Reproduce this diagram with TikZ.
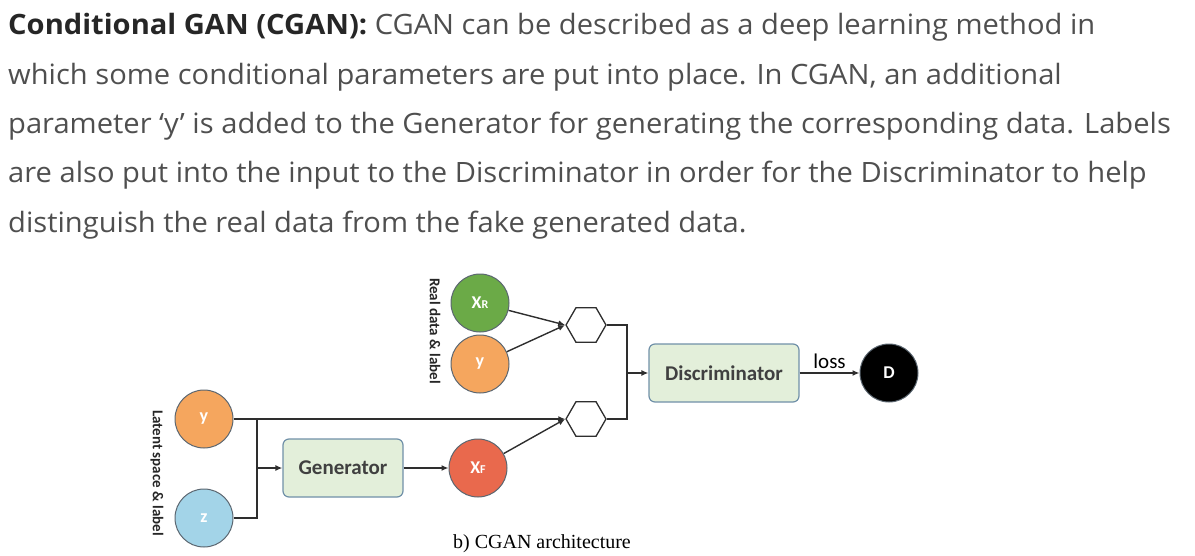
\documentclass[tikz,border=0pt]{standalone}
\usepackage{fontspec}
\setmainfont{Open Sans}[FakeStretch=1.04]
\newfontfamily\diagfont{Carlito}
\newfontfamily\capfont{Liberation Serif}
\usetikzlibrary{arrows.meta,positioning,shapes.geometric}
\definecolor{txtgray}{HTML}{4F4F4F}
\definecolor{txtdark}{HTML}{262626}
\definecolor{realgreen}{HTML}{6BAA47}
\definecolor{lblorange}{HTML}{F5A65E}
\definecolor{fakered}{HTML}{E9694D}
\definecolor{noiseblue}{HTML}{A3D4E8}
\definecolor{boxgreen}{HTML}{E3EFDA}
\definecolor{boxedge}{HTML}{7090A8}
\definecolor{ringgray}{HTML}{5B6670}
\definecolor{wiregray}{HTML}{2E2E2E}

\begin{document}
\begin{tikzpicture}[x=1pt,y=-1pt,>={Latex[length=7pt,width=6pt]},
  wire/.style={draw=wiregray,line width=1.4pt},
  blob/.style={circle,draw=ringgray,line width=1pt,minimum size=58pt,inner sep=0pt,
    text=white,font=\diagfont\bfseries\fontsize{18}{18}\selectfont},
  block/.style={rectangle,rounded corners=6pt,draw=boxedge,fill=boxgreen,line width=1.2pt,
    minimum height=58pt,text=black!75,font=\diagfont\bfseries\fontsize{21}{21}\selectfont},
  joiner/.style={regular polygon,regular polygon sides=6,draw=wiregray,line width=1.3pt,
    fill=white,minimum size=40pt,inner sep=0pt},
  para/.style={anchor=base west,inner sep=0pt,text=txtgray,font=\fontsize{28}{28}\selectfont},
  side/.style={rotate=-90,text=black!85,font=\diagfont\bfseries\fontsize{15}{15}\selectfont}]
  \useasboundingbox (0,0) rectangle (1195,555);

  % text above the figure
  \node[para] (l1) at (8,34) {{\bfseries\color{txtdark}Conditional GAN (CGAN):} CGAN can be described as a deep learning method in};
  \node[para] (l2) at (8,84) {which some conditional parameters are put into place. In CGAN, an additional};
  \node[para] (l3) at (8,133) {parameter `y' is added to the Generator for generating the corresponding data. Labels};
  \node[para] (l4) at (8,182) {are also put into the input to the Discriminator in order for the Discriminator to help};
  \node[para] (l5) at (8,232) {distinguish the real data from the fake generated data.};

  % real side
  \node[blob,fill=realgreen] (xr) at (480,303) {X{\fontsize{12}{12}\selectfont R}};
  \node[blob,fill=lblorange,below=2pt of xr] (yr) {y};
  \node[side] (rlab) at (435,331) {Real data \& label};
  \node[joiner] (h1) at (586,325) {};
  \node[joiner] (h2) at (586,419) {};
  \node[block,minimum width=150pt] (disc) at (724,373) {Discriminator};
  \node[blob,fill=black] (d) at (889,373) {D};

  % latent side
  \node[blob,fill=lblorange] (yl) at (204,419) {y};
  \node[blob,fill=noiseblue,below=40pt of yl] (zl) {z};
  \node[side] (llab) at (157,473) {Latent space \& label};
  \node[block,minimum width=120pt] (gen) at (343,468) {Generator};
  \node[blob,fill=fakered] (xf) at (478,468) {X{\fontsize{12}{12}\selectfont F}};

  \node[font=\capfont\fontsize{20}{20}\selectfont] (cap) at (542,544) {b) CGAN architecture};

  \coordinate (jd) at (627,373);
  \coordinate (jg) at (257,468);

  \draw[wire,->] (xr) -- (h1.west);
  \draw[wire,->] (yr) -- (h1.west);
  \draw[wire] (h1.east) -| (jd) |- (h2.east);
  \draw[wire,->] (jd) -- (disc);
  \draw[wire,->] (disc) -- node[above,font=\diagfont\fontsize{21}{21}\selectfont] {loss} (d);
  \draw[wire,->] (yl) -- (h2.west);
  \draw[wire] (zl) -| (jg) |- (yl);
  \draw[wire,->] (jg) -- (gen);
  \draw[wire,->] (gen) -- (xf);
  \draw[wire,->] (xf) -- (h2.west);
\end{tikzpicture}
\end{document}
